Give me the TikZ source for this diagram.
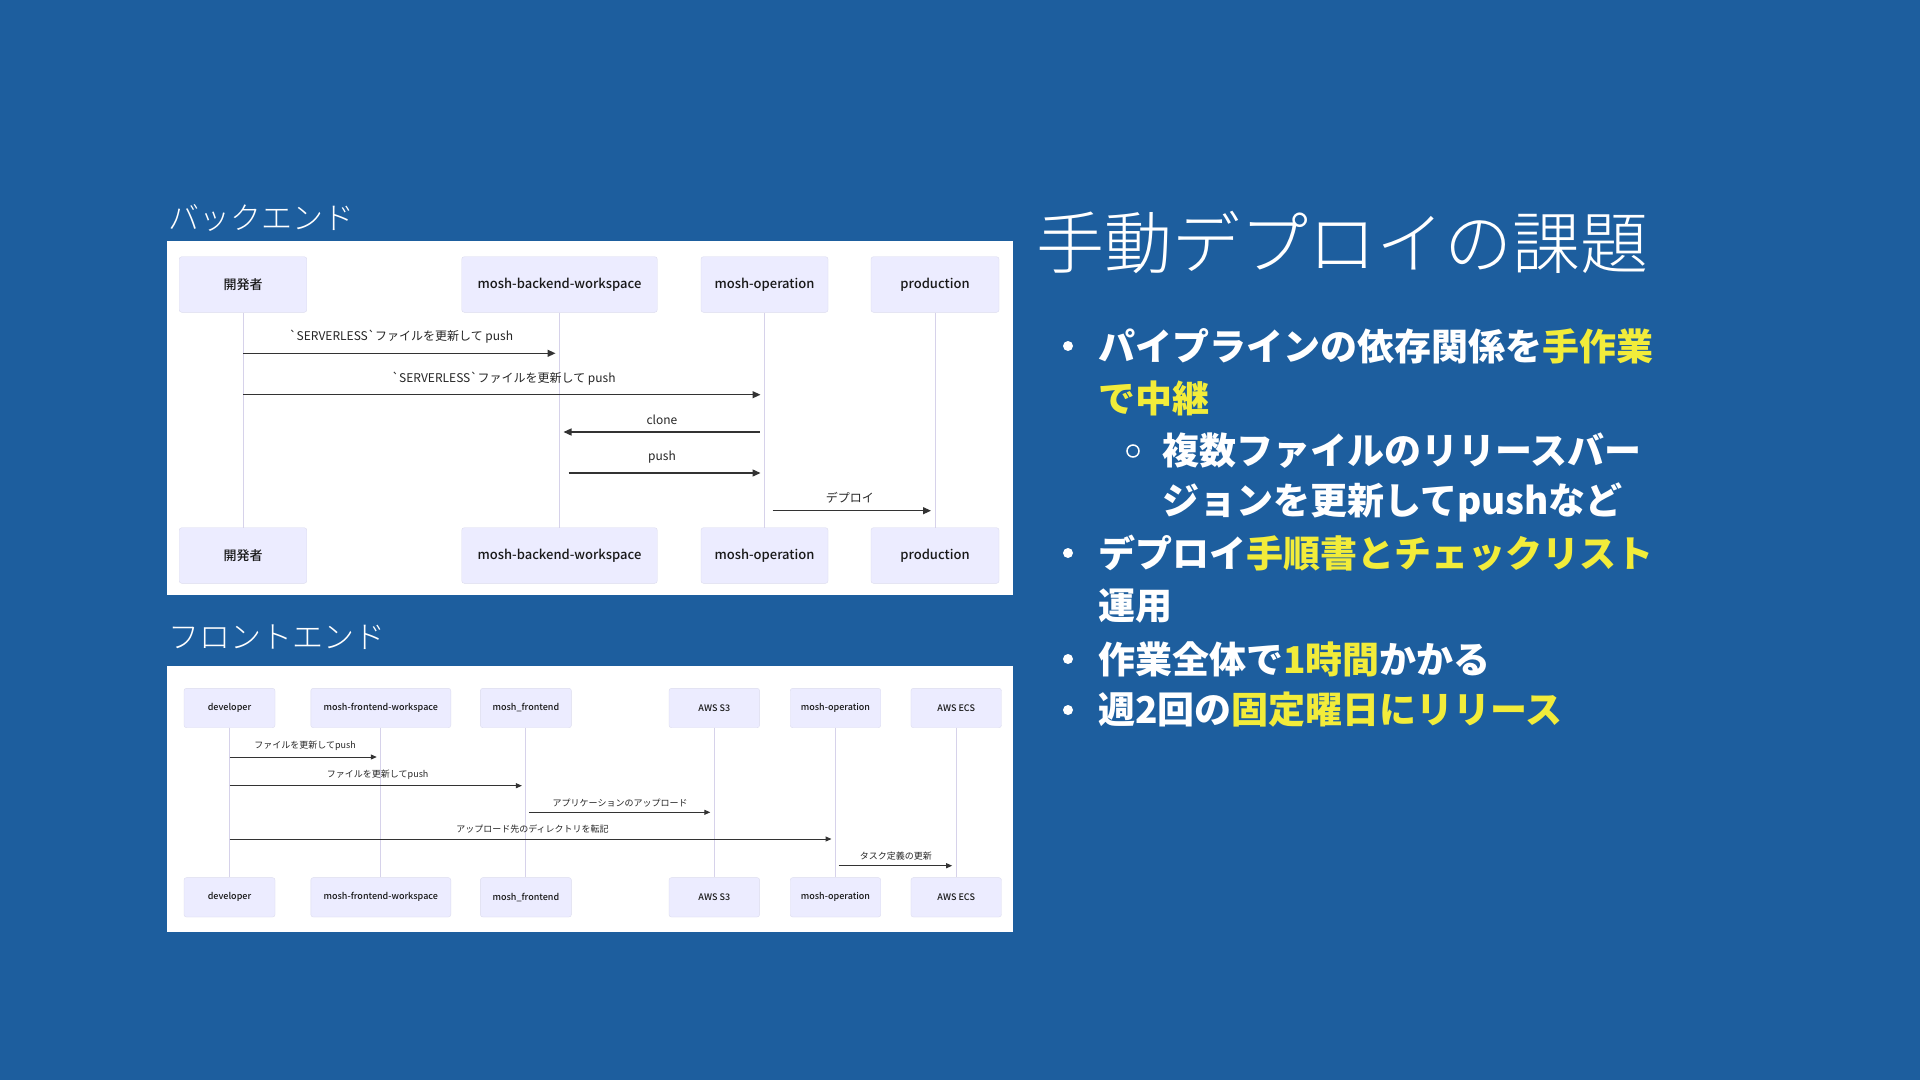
\documentclass[tikz,border=0pt]{standalone}
\usepackage{fontspec}
\setmainfont{Noto Sans CJK JP}
\newfontfamily\thinjp{Noto Sans CJK JP Light}
\newfontfamily\midjp{Noto Sans CJK JP Medium}
\usetikzlibrary{arrows.meta}
\definecolor{slidebg}{HTML}{1D5E9E}
\definecolor{hiyellow}{HTML}{F2EC3A}
\definecolor{actorfill}{HTML}{ECECFF}
\definecolor{actorline}{HTML}{DCDCEE}
\definecolor{lifecol}{HTML}{D6D2EA}
\newcommand{\hi}[1]{\textcolor{hiyellow}{#1}}

\begin{document}
\begin{tikzpicture}[x=1pt,y=-1pt,>={Triangle[length=8pt,width=7pt]},
 actor/.style={draw=actorline,fill=actorfill,rounded corners=2.5pt,text=black!90,inner sep=0pt,font=\midjp\fontsize{13}{15}\selectfont},
 sactor/.style={actor,font=\midjp\fontsize{9}{11}\selectfont},
 life/.style={draw=lifecol,line width=1pt},
 msg/.style={->,draw=black!80,line width=1.3pt,shorten >=4pt},
 smsg/.style={msg,line width=1pt,>={Triangle[length=6pt,width=5pt]}},
 lbl/.style={text=black!85,inner sep=0pt,font=\fontsize{12}{14}\selectfont},
 slbl/.style={lbl,font=\fontsize{9}{11}\selectfont},
 hd/.style={text=white,anchor=west,inner sep=0pt,font=\thinjp\fontsize{31}{36}\selectfont},
 item/.style={text=white,anchor=west,inner sep=0pt,font=\bfseries\fontsize{37}{44}\selectfont},
 dot/.style={circle,fill=white,inner sep=0pt,minimum size=10pt},
 ring/.style={circle,draw=white,line width=1.5pt,inner sep=0pt,minimum size=12pt}]
\useasboundingbox (0,0) rectangle (1920,1080);
\fill[slidebg] (0,0) rectangle (1920,1080);

\node[hd] (backtitle) at (168,218) {バックエンド};
\fill[white] (166.5,241) rectangle (1012.7,595);
\foreach \n/\x/\w/\t in {dev/243/127.5/開発者,ws/559.5/195.5/mosh-backend-workspace,op/764.5/127/mosh-operation,prod/935/128/production}{
 \node[actor,minimum width=\w pt,minimum height=55.6pt] (b\n-top) at (\x,284.5) {\t};
 \node[actor,minimum width=\w pt,minimum height=55.6pt] (b\n-bot) at (\x,555.5) {\t};
 \draw[life] (b\n-top) -- (b\n-bot);
}
\draw[msg] (bdev-top |- 0,353.3) -- (bws-top |- 0,353.3) node[lbl,midway,above=9pt] {\textasciigrave SERVERLESS\textasciigrave ファイルを更新して push};
\draw[msg] (bdev-top |- 0,394.7) -- (bop-top |- 0,394.7) node[lbl,midway,above=9pt] {\textasciigrave SERVERLESS\textasciigrave ファイルを更新して push};
\draw[msg,shorten <=5pt] (bop-top |- 0,432) -- (bws-top |- 0,432) node[lbl,midway,above=7pt] {clone};
\draw[msg,shorten <=9pt] (bws-top |- 0,473) -- (bop-top |- 0,473) node[lbl,midway,above=9pt] {push};
\draw[msg,shorten <=8pt] (bop-top |- 0,510.7) -- (bprod-top |- 0,510.7) node[lbl,midway,above=7pt] {デプロイ};

\node[hd] (fronttitle) at (168,637) {フロントエンド};
\fill[white] (166.5,666) rectangle (1012.7,931.5);
\foreach \n/\x/\w/\t in {dev/229.5/91/developer,ws/380.8/140/mosh-frontend-workspace,fe/525.9/91/mosh\_frontend,sthree/714.3/90.6/AWS S3,op/835.5/90.5/mosh-operation,ecs/956.2/90.5/AWS ECS}{
 \node[sactor,minimum width=\w pt,minimum height=39.4pt] (f\n-top) at (\x,708) {\t};
 \node[sactor,minimum width=\w pt,minimum height=39.4pt] (f\n-bot) at (\x,897.3) {\t};
 \draw[life] (f\n-top) -- (f\n-bot);
}
\draw[smsg] (fdev-top |- 0,757) -- (fws-top |- 0,757) node[slbl,midway,above=6pt] {ファイルを更新してpush};
\draw[smsg] (fdev-top |- 0,785.7) -- (ffe-top |- 0,785.7) node[slbl,midway,above=6pt] {ファイルを更新してpush};
\draw[smsg,shorten <=3pt] (ffe-top |- 0,812.3) -- (fsthree-top |- 0,812.3) node[slbl,midway,above=5pt] {アプリケーションのアップロード};
\draw[smsg] (fdev-top |- 0,839) -- (fop-top |- 0,839) node[slbl,midway,above=5pt] {アップロード先のディレクトリを転記};
\draw[smsg,shorten <=3pt] (fop-top |- 0,865.7) -- (fecs-top |- 0,865.7) node[slbl,midway,above=5pt] {タスク定義の更新};

\node[hd,font=\thinjp\fontsize{68}{80}\selectfont] (title) at (1036,242) {手動デプロイの課題};
\foreach \y in {346,553,659,710}{\node[dot] (dot\y) at (1068,\y) {};}
\node[ring] (ring1) at (1133,451) {};
\node[item] (pipe1) at (1098,346) {パイプラインの依存関係を\hi{手作業}};
\node[item] (pipe2) at (1098,398) {\hi{で中継}};
\node[item] (files1) at (1162,451) {複数ファイルのリリースバー};
\node[item] (files2) at (1162,502) {ジョンを更新してpushなど};
\node[item] (check1) at (1098,553) {デプロイ\hi{手順書とチェックリスト}};
\node[item] (check2) at (1098,606) {運用};
\node[item] (hour) at (1098,659) {作業全体で\hi{1時間}かかる};
\node[item] (week) at (1098,710) {週2回の\hi{固定曜日にリリース}};
\end{tikzpicture}
\end{document}
